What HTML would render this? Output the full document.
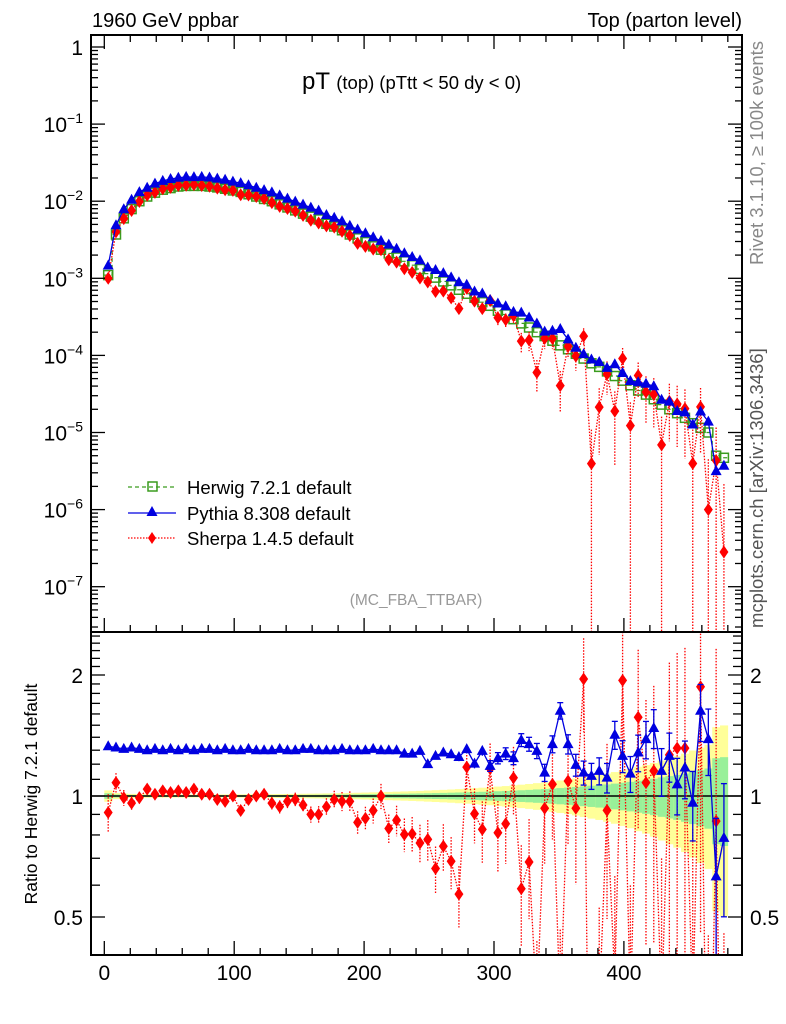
<!DOCTYPE html>
<html><head><meta charset="utf-8"><style>
html,body{margin:0;padding:0;background:#fff;width:786px;height:1024px;overflow:hidden;}
svg{display:block;font-family:"Liberation Sans",Arial,sans-serif;}
</style></head><body>
<svg id="c" width="786" height="1024" viewBox="0 0 786 1024" xmlns="http://www.w3.org/2000/svg">
<rect x="0" y="0" width="786" height="1024" fill="#fff"/>
<text x="92" y="27" font-size="20">1960 GeV ppbar</text>
<text x="742" y="27" font-size="20" text-anchor="end">Top (parton level)</text>
<text x="302" y="89" font-size="24">pT <tspan font-size="18.5">(top)</tspan><tspan font-size="18.5" dx="5">(pTtt &lt; 50 dy &lt; 0)</tspan></text>
<text transform="translate(763,265) rotate(-90)" font-size="18.5" fill="#888">Rivet 3.1.10, ≥ 100k events</text>
<text transform="translate(763,628) rotate(-90)" font-size="18.5" fill="#555">mcplots.cern.ch [arXiv:1306.3436]</text>
<text x="416" y="605" font-size="15.5" fill="#999" text-anchor="middle">(MC_FBA_TTBAR)</text>
<text transform="translate(37,794) rotate(-90)" font-size="17.5" text-anchor="middle">Ratio to Herwig 7.2.1 default</text>
<g id="bands"></g><g id="marks"></g><g id="axes"></g>
<g>
<g><line x1="128" y1="487" x2="176" y2="487" stroke="#3a9c1e" stroke-width="1.3" stroke-dasharray="4,3"/><rect x="148" y="482" width="9" height="9" fill="none" stroke="#3a9c1e" stroke-width="1.5"/><text x="187" y="494" font-size="18.5">Herwig 7.2.1 default</text></g>
<g><line x1="128" y1="513" x2="176" y2="513" stroke="#0000e0" stroke-width="1.3"/><polygon points="152,506 157.5,516 146.5,516" fill="#0000e0"/><text x="187" y="520" font-size="18.5">Pythia 8.308 default</text></g>
<g><line x1="128" y1="538" x2="176" y2="538" stroke="#f00" stroke-width="1.3" stroke-dasharray="1.5,1.5"/><polygon points="152,532 156,538 152,544 148,538" fill="#f00"/><text x="187" y="545" font-size="18.5">Sherpa 1.4.5 default</text></g>
</g>
</svg>
<script>
const binCenters=[3,9,15,21,27,33,39,45,51,57,63,69,75,81,87,93,99,105,111,117,123,129,135,141,147,153,159,165,171,177,183,189,195,201,207,213,219,225,231,237,243,249,255,261,267,273,279,285,291,297,303,309,315,321,327,333,339,345,351,357,363,369,375,381,387,393,399,405,411,417,423,429,435,441,447,453,459,465,471,477];
const herwig=[1.1e-3,3.7e-3,6.0e-3,7.9e-3,1.0e-2,1.15e-2,1.29e-2,1.41e-2,1.48e-2,1.55e-2,1.58e-2,1.58e-2,1.58e-2,1.55e-2,1.51e-2,1.45e-2,1.38e-2,1.32e-2,1.23e-2,1.15e-2,1.07e-2,1.0e-2,9.1e-3,8.3e-3,7.6e-3,6.9e-3,6.3e-3,5.8e-3,5.1e-3,4.7e-3,4.2e-3,3.7e-3,3.3e-3,2.95e-3,2.6e-3,2.35e-3,2.1e-3,1.86e-3,1.66e-3,1.48e-3,1.32e-3,1.15e-3,1.02e-3,9.1e-4,8.1e-4,7.1e-4,6.3e-4,5.6e-4,4.9e-4,4.4e-4,3.8e-4,3.4e-4,2.95e-4,2.6e-4,2.3e-4,2.0e-4,1.78e-4,1.55e-4,1.35e-4,1.2e-4,1.05e-4,9.1e-5,7.9e-5,7.1e-5,6.2e-5,5.4e-5,4.7e-5,4.1e-5,3.5e-5,3.1e-5,2.7e-5,2.3e-5,2.0e-5,1.78e-5,1.55e-5,1.32e-5,1.15e-5,1.0e-5,5e-6,4.7e-6];
const pythiaRatio=[1.33,1.32,1.31,1.32,1.31,1.30,1.31,1.30,1.31,1.30,1.31,1.30,1.31,1.31,1.30,1.31,1.30,1.30,1.31,1.30,1.30,1.30,1.31,1.30,1.30,1.31,1.31,1.30,1.30,1.30,1.31,1.30,1.30,1.30,1.31,1.30,1.30,1.30,1.275,1.275,1.295,1.20,1.258,1.283,1.27,1.25,1.308,1.204,1.295,1.188,1.242,1.275,1.242,1.378,1.346,1.295,1.143,1.346,1.63,1.346,1.195,1.143,1.122,1.155,1.111,1.42,1.258,1.137,1.283,1.385,1.476,1.155,1.258,1.069,1.177,0.962,1.63,1.385,0.631,0.787];
const sherpaRatio=[0.91,1.08,0.99,0.96,0.99,1.04,1.01,1.03,1.02,1.03,1.02,1.04,1.01,1.01,0.98,0.97,1.0,0.92,0.98,1.0,1.01,0.96,0.94,0.97,0.98,0.95,0.9,0.9,0.94,0.98,0.97,0.97,0.86,0.88,0.92,1.0,0.83,0.87,0.802,0.805,0.764,0.78,0.66,0.75,0.688,0.57,1.18,0.903,0.826,1.17,0.81,0.853,1.11,0.588,0.685,0.3,0.932,1.07,0.3,1.09,0.932,1.955,0.05,0.3,0.921,0.35,1.94,0.3,1.57,1.08,1.155,0.3,1.266,1.316,1.316,0.3,1.87,0.1,0.866,0.06];
const xTicks=[0,100,200,300,400];

const NS="http://www.w3.org/2000/svg";
const L=91,R=742,T=35,MB=632,RB=955;
const X=v=>104.3+v*1.299;
const YM=v=>47-Math.log10(v)*77.1;
const YR=v=>796-Math.log2(v)*121;
function mk(p,tag,a){const e=document.createElementNS(NS,tag);for(const k in a)e.setAttribute(k,a[k]);p.appendChild(e);return e;}
const bands=document.getElementById('bands'),marks=document.getElementById('marks'),axes=document.getElementById('axes');
const clipM=mk(document.getElementById('c'),'clipPath',{id:'cm'});mk(clipM,'rect',{x:L,y:T,width:R-L,height:MB-T});
const clipR=mk(document.getElementById('c'),'clipPath',{id:'cr'});mk(clipR,'rect',{x:L,y:MB,width:R-L,height:RB-MB});
const gM=mk(marks,'g',{'clip-path':'url(#cm)'});
const gR=mk(marks,'g',{'clip-path':'url(#cr)'});
const gB=mk(bands,'g',{'clip-path':'url(#cr)'});
const n=binCenters.length;
const hErr=i=>5.4e-4/Math.sqrt(herwig[i]);
for(let i=0;i<n;i++){const x0=X(binCenters[i]-3),x1=X(binCenters[i]+3),e=hErr(i);
 const y=mk(gB,'rect',{x:x0,y:YR(1+2*e),width:x1-x0+0.3,height:YR(Math.max(0.05,1-2*e))-YR(1+2*e),fill:'#ffff99'});
 
 const g=mk(gB,'rect',{x:x0,y:YR(1+e),width:x1-x0+0.3,height:YR(1-e)-YR(1+e),fill:'#99f099'});
 }
const one=mk(gR,'line',{x1:L,x2:R,y1:YR(1),y2:YR(1),stroke:'#000','stroke-width':1.5});

let d='';for(let i=0;i<n;i++){const y=YM(herwig[i]);d+=(i?'L':'M')+X(binCenters[i]-3)+','+y+'L'+X(binCenters[i]+3)+','+y;}
const hl=mk(gM,'path',{d:d,fill:'none',stroke:'#3a9c1e','stroke-width':1.2,'stroke-dasharray':'4,3'});

for(let i=0;i<n;i++){const s=mk(gM,'rect',{x:X(binCenters[i])-4.5,y:YM(herwig[i])-4.5,width:9,height:9,fill:'none',stroke:'#3a9c1e','stroke-width':1.5});
 }
function series(g,Yf,vals,errs,color,dash,shape,nameBase,cap){
 let p='';for(let i=0;i<n;i++)p+=(i?'L':'M')+X(binCenters[i])+','+Yf(vals[i]);
 const a={d:p,fill:'none',stroke:color,'stroke-width':1.3};if(dash)a['stroke-dasharray']=dash;
 const l=mk(g,'path',a);
 for(let i=0;i<n;i++){const x=X(binCenters[i]),v=vals[i],e=errs(i);
  const ya=Yf(v*(1+e)),yb=Yf(Math.max(v*(1-e),v*1e-4));
  const ea={x1:x,x2:x,y1:ya,y2:yb,stroke:color,'stroke-width':1.3};if(dash)ea['stroke-dasharray']=dash;
  const el=mk(g,'line',ea);
  if(cap&&e>0.03){mk(g,'line',{x1:x-3,x2:x+3,y1:ya,y2:ya,stroke:color,'stroke-width':1.3});mk(g,'line',{x1:x-3,x2:x+3,y1:yb,y2:yb,stroke:color,'stroke-width':1.3});}
  const y=Yf(v);let pt;
  if(shape==='tri')pt=mk(g,'polygon',{points:`${x},${y-6} ${x+5.5},${y+4} ${x-5.5},${y+4}`,fill:color});
  else pt=mk(g,'polygon',{points:`${x},${y-6.5} ${x+4.5},${y} ${x},${y+6.5} ${x-4.5},${y}`,fill:color});
  }
}
const pErr=i=>7e-4/Math.sqrt(herwig[i]*pythiaRatio[i]);
const sErr=i=>3.5e-3/Math.sqrt(herwig[i]*Math.max(sherpaRatio[i],0.05));
const pyMain=herwig.map((v,i)=>v*pythiaRatio[i]),shMain=herwig.map((v,i)=>v*sherpaRatio[i]);
series(gM,YM,shMain,sErr,'#f00','1.5,1.5','dia','sherpa-main',false);
series(gM,YM,pyMain,i=>0,'#0000e0',null,'tri','pythia-main',false);
series(gR,YR,sherpaRatio,sErr,'#f00','1.5,1.5','dia','sherpa-ratio',false);
series(gR,YR,pythiaRatio,pErr,'#0000e0',null,'tri','pythia-ratio',true);
const f1=mk(axes,'rect',{x:L,y:T,width:R-L,height:MB-T,fill:'none',stroke:'#000','stroke-width':2});

const f2=mk(axes,'rect',{x:L,y:MB,width:R-L,height:RB-MB,fill:'none',stroke:'#000','stroke-width':2});

const tk=(x1,y1,x2,y2)=>mk(axes,'line',{x1,y1,x2,y2,stroke:'#000','stroke-width':1.3});
for(let v=0;v<=480;v+=20){const x=X(v),maj=v%100===0,len=maj?14:7;
 tk(x,MB,x,MB-len);tk(x,RB,x,RB-len);tk(x,T,x,T+len);}
for(const v of xTicks){const t=mk(axes,'text',{x:X(v),y:980,'font-size':21,'text-anchor':'middle'});t.textContent=v;
 }
const exps=[0,-1,-2,-3,-4,-5,-6,-7];
for(let e=-8;e<=0;e++){for(let m=1;m<10;m++){const y=YM(m*Math.pow(10,e));if(y<T||y>MB)continue;const len=m===1?14:7;
 tk(L,y,L+len,y);tk(R,y,R-len,y);}}
for(const e of exps){const y=YM(Math.pow(10,e));const t=mk(axes,'text',{x:83,y:y+8,'font-size':21,'text-anchor':'end'});
 
 if(e===0)t.textContent='1';else{t.textContent='10';const s=mk(t,'tspan',{dy:-9,'font-size':14});s.textContent='−'+(-e);}}
const rLabels=[0.5,1,2];
for(let v=0.4;v<=2.55;v+=0.1){const y=YR(v);if(y<MB||y>RB)continue;const maj=Math.abs(v-0.5)<1e-6||Math.abs(v-1)<1e-6||Math.abs(v-2)<1e-6;const len=maj?14:9;
 tk(L,y,L+len,y);tk(R,y,R-len,y);}
for(const v of rLabels){const y=YR(v);
 const t=mk(axes,'text',{x:83,y:y+8,'font-size':21,'text-anchor':'end'});t.textContent=v===0.5?'0.5':String(v);
 
 const t2=mk(axes,'text',{x:750,y:y+8,'font-size':21});t2.textContent=v===0.5?'0.5':String(v);
 }
</script>
</body></html>
